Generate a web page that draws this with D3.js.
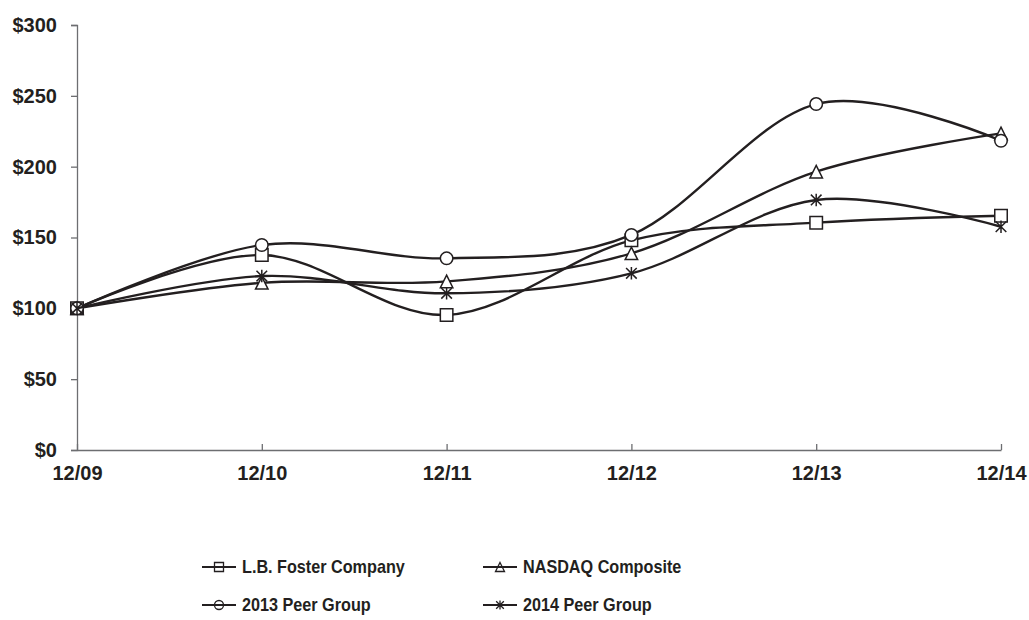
<!DOCTYPE html>
<html>
<head>
<meta charset="utf-8">
<script src="https://cdn.jsdelivr.net/npm/d3@7"></script>
<style>
  body { margin: 0; background: #fff; }
  text { font-family: "Liberation Sans", Arial, sans-serif; font-weight: bold; fill: #231f20; }
</style>
</head>
<body>
<div id="chart"></div>
<script>
// five-year cumulative return, $100 invested at 12/09
const periods = ["12/09", "12/10", "12/11", "12/12", "12/13", "12/14"];
const lbFoster = [100, 137.6, 95.3, 148, 160.5, 165.4];
const nasdaq = [100, 118, 119, 138.8, 196.5, 223.5];
const peer2013 = [100, 144.7, 135.3, 151.8, 244.2, 218.3];
const peer2014 = [100, 122.8, 110.6, 124.7, 176.5, 157.6];
const yTicks = [0, 50, 100, 150, 200, 250, 300];

const seriesNames = ["L.B. Foster Company", "NASDAQ Composite", "2013 Peer Group", "2014 Peer Group"];
const seriesValues = [lbFoster, nasdaq, peer2013, peer2014];
const seriesMarkers = ["square", "triangle", "circle", "star"];

const width = 1029, height = 620;
const ink = "#231f20";

const svg = d3.select("#chart").append("svg")
  .attr("width", width)
  .attr("height", height);

const x = d3.scalePoint()
  .domain(periods)
  .range([77, 1001]);

const y = d3.scaleLinear()
  .domain([0, 300])
  .range([450, 25]);

// axes
const yAxis = svg.append("g")
  .attr("transform", "translate(77,0)")
  .call(d3.axisLeft(y).tickValues(yTicks).tickSize(6).tickPadding(14).tickFormat(d => "$" + d));
yAxis.select(".domain").attr("stroke", "#6d6e71").attr("stroke-width", 1.3);
yAxis.selectAll(".tick line").attr("stroke", "#6d6e71").attr("stroke-width", 1.3);
yAxis.selectAll(".tick text").style("font-size", "20px");

const xAxis = svg.append("g")
  .attr("transform", "translate(0,450)")
  .call(d3.axisBottom(x).tickSize(-6).tickPadding(16).tickSizeOuter(0));
xAxis.select(".domain").attr("stroke", "#6d6e71").attr("stroke-width", 1.3);
xAxis.selectAll(".tick line").attr("stroke", "#6d6e71").attr("stroke-width", 1.3);
xAxis.selectAll(".tick text").style("font-size", "20px").attr("dy", "0.71em");

// marker shapes
function markerPath(type, s) {
  const h = s / 2;
  if (type === "square") return `M${-h},${-h}H${h}V${h}H${-h}Z`;
  if (type === "triangle") return `M0,${-h}L${h},${h}L${-h},${h}Z`;
  if (type === "circle") return d3.arc()({innerRadius: 0, outerRadius: h, startAngle: 0, endAngle: 2 * Math.PI});
  const d = h * 0.85;
  return `M0,${-h}V${h}M${-d},${-d}L${d},${d}M${d},${-d}L${-d},${d}`;
}

const line = d3.line()
  .x((d, i) => x(periods[i]))
  .y(d => y(d))
  .curve(d3.curveCardinal.tension(0));

const series = svg.append("g").selectAll("g")
  .data(seriesValues)
  .enter().append("g");

series.append("path")
  .attr("d", d => line(d))
  .attr("fill", "none")
  .attr("stroke", ink)
  .attr("stroke-width", 2.4);

series.each(function (vals, si) {
  d3.select(this).selectAll("path.mk")
    .data(vals)
    .enter().append("path")
    .attr("class", "mk")
    .attr("transform", (d, i) => `translate(${x(periods[i])},${y(d)})`)
    .attr("d", markerPath(seriesMarkers[si], 12.5))
    .attr("fill", seriesMarkers[si] === "star" ? "none" : "#fff")
    .attr("stroke", ink)
    .attr("stroke-width", 1.5);
});

// legend
const legendPos = [[202, 567], [483, 567], [202, 605], [483, 605]];
const legend = svg.append("g").selectAll("g")
  .data(seriesNames)
  .enter().append("g")
  .attr("transform", (d, i) => `translate(${legendPos[i]})`);

legend.append("line")
  .attr("x1", 0).attr("x2", 34)
  .attr("stroke", ink).attr("stroke-width", 1.8);
legend.append("path")
  .attr("transform", "translate(17,0)")
  .attr("d", (d, i) => markerPath(seriesMarkers[i], 9))
  .attr("fill", "none")
  .attr("stroke", ink)
  .attr("stroke-width", 1.3);
legend.append("text")
  .attr("transform", "translate(40,0) scale(0.9,1)")
  .attr("dy", "0.36em")
  .style("font-size", "18px")
  .text(d => d);
</script>
</body>
</html>
